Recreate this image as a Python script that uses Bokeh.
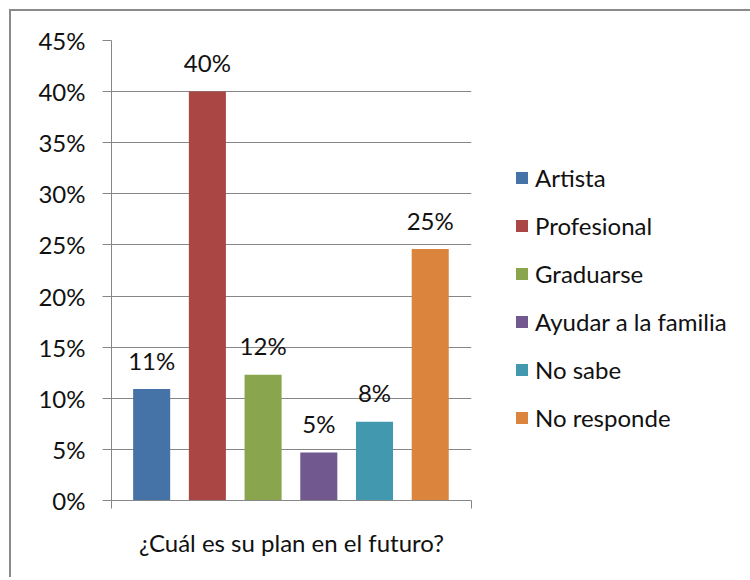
from bokeh.plotting import figure
from bokeh.models import (ColumnDataSource, Range1d, FixedTicker, NumeralTickFormatter,
                          Legend, LegendItem, CustomJSTickFormatter)
from bokeh.core.properties import value
from bokeh.embed import file_html
from bokeh.resources import INLINE

# ---- data ----
categories = ["Artista", "Profesional", "Graduarse", "Ayudar a la familia",
              "No sabe", "No responde"]
shares = [0.109, 0.400, 0.123, 0.047, 0.077, 0.246]
colors = ["#4572A7", "#AA4643", "#89A54E", "#71588F", "#4198AF", "#DB843D"]
y_ticks = [0.0, 0.05, 0.10, 0.15, 0.20, 0.25, 0.30, 0.35, 0.40, 0.45]
axis_title = "¿Cuál es su plan en el futuro?"

FONT = "Lato"
FS = "24px"
GRAY = "#868686"
TXT = "#111111"

x_start, x_end = -0.221, 6.241

p = figure(frame_width=360, frame_height=460, output_backend="svg", toolbar_location=None,
           x_range=Range1d(x_start, x_end), y_range=Range1d(0, 0.45),
           min_border_left=100, min_border_right=277,
           min_border_top=29, min_border_bottom=77)
p.styles = {"margin-left": "9px", "margin-top": "9px",
            "border-top": "2px solid #8a8a8a", "border-left": "2px solid #8a8a8a"}
p.outline_line_color = None
p.background_fill_color = "white"
p.border_fill_color = "white"

xs = [i + 0.5 for i in range(len(categories))]
src = ColumnDataSource(dict(x=xs, top=shares, color=colors, cat=categories,
                            lab=["%d%%" % round(v * 100) for v in shares]))

items = []
for i, c in enumerate(categories):
    r = p.vbar(x=[xs[i]], top=[shares[i]], bottom=0, width=0.665,
               fill_color=colors[i], line_color=None)
    items.append(LegendItem(label=c, renderers=[r]))

p.text(x="x", y="top", text="lab", source=src, text_align="center",
       text_baseline="alphabetic", y_offset=-29, text_font=value(FONT),
       text_font_size=FS, text_color=TXT)

# y axis
p.yaxis.ticker = FixedTicker(ticks=y_ticks)
p.yaxis.formatter = NumeralTickFormatter(format="0%")
p.yaxis.major_label_text_font = FONT
p.yaxis.major_label_text_font_size = FS
p.yaxis.major_label_text_color = TXT
p.yaxis.major_label_standoff = 17
p.yaxis.axis_line_color = GRAY
p.yaxis.major_tick_line_color = GRAY
p.yaxis.major_tick_out = 9
p.yaxis.major_tick_in = 0
p.yaxis.minor_tick_line_color = None
p.ygrid.ticker = FixedTicker(ticks=y_ticks)
p.ygrid.grid_line_color = GRAY
p.xgrid.grid_line_color = None

# x axis
p.xaxis.ticker = FixedTicker(ticks=[x_start, x_end])
p.xaxis.formatter = CustomJSTickFormatter(code="return ''")
p.xaxis.axis_line_color = GRAY
p.xaxis.major_tick_line_color = GRAY
p.xaxis.major_tick_out = 8
p.xaxis.major_tick_in = 0
p.xaxis.minor_tick_line_color = None
p.xaxis.axis_label = axis_title
p.xaxis.axis_label_text_font = FONT
p.xaxis.axis_label_text_font_size = FS
p.xaxis.axis_label_text_font_style = "normal"
p.xaxis.axis_label_text_color = TXT
p.xaxis.axis_label_standoff = 19

legend = Legend(items=items, location=(43, 68), orientation="vertical",
                glyph_width=15, glyph_height=15, label_height=28, spacing=19,
                label_standoff=6, padding=0, margin=0,
                label_text_font=FONT, label_text_font_size=FS,
                label_text_color=TXT,
                border_line_color=None, background_fill_alpha=0)
p.add_layout(legend, "right")

open("out.html", "w").write(file_html(p, INLINE))
